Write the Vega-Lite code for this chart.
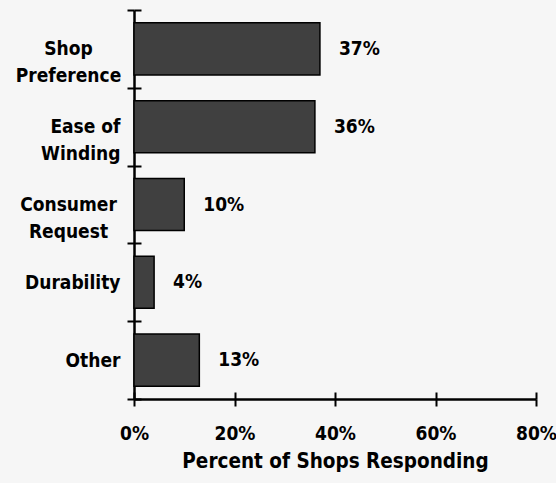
{
  "$schema": "https://vega.github.io/schema/vega-lite/v6.json",
  "width": 402,
  "height": 389,
  "autosize": {"type": "none"},
  "padding": {"left": 134, "top": 10, "right": 20, "bottom": 84},
  "background": "#f6f6f6",
  "data": {
    "values": [
      {"reason": "Shop Preference", "pct": 37, "label": "37%"},
      {"reason": "Ease of Winding", "pct": 36, "label": "36%"},
      {"reason": "Consumer Request", "pct": 10, "label": "10%"},
      {"reason": "Durability", "pct": 4, "label": "4%"},
      {"reason": "Other", "pct": 13, "label": "13%"}
    ]
  },
  "layer": [
    {
      "mark": {"type": "bar", "fill": "#404040", "stroke": "#000000", "strokeWidth": 1.5, "height": {"band": 0.67}},
      "encoding": {
        "x": {
          "field": "pct",
          "type": "quantitative",
          "scale": {"domain": [0, 80], "nice": false},
          "axis": {
            "orient": "bottom",
            "values": [0, 20, 40, 60, 80],
            "labelExpr": "datum.value + '%'",
            "grid": false,
            "domain": true,
            "domainColor": "#000000",
            "domainWidth": 2.5,
            "ticks": true,
            "tickSize": 7,
            "tickWidth": 2,
            "tickColor": "#000000",
            "labelFont": "DejaVu Sans Condensed",
            "labelFontWeight": "bold",
            "labelFontSize": 19,
            "labelColor": "#000000",
            "labelPadding": 18,
            "labelFlush": false,
            "labelOverlap": false,
            "title": "Percent of Shops Responding",
            "titleFont": "DejaVu Sans Condensed",
            "titleFontWeight": "bold",
            "titleFontSize": 20.5,
            "titleColor": "#000000",
            "titlePadding": 8
          }
        },
        "y": {
          "field": "reason",
          "type": "nominal",
          "sort": null,
          "scale": {"paddingInner": 0, "paddingOuter": 0},
          "axis": {
            "orient": "left",
            "title": null,
            "tickBand": "extent",
            "ticks": true,
            "tickSize": 7,
            "tickWidth": 2,
            "tickColor": "#000000",
            "domain": true,
            "domainColor": "#000000",
            "domainWidth": 2.5,
            "labelFont": "DejaVu Sans Condensed",
            "labelFontWeight": "bold",
            "labelFontSize": 19,
            "labelColor": "#000000",
            "labelLineHeight": 27,
            "labelBaseline": "middle",
            "labelExpr": "datum.value == 'Shop Preference' ? ['Shop', 'Preference'] : datum.value == 'Ease of Winding' ? ['Ease of', 'Winding'] : datum.value == 'Consumer Request' ? ['Consumer', 'Request'] : datum.label",
            "labelAlign": {"condition": {"test": "datum.value == 'Shop Preference' || datum.value == 'Consumer Request'", "value": "center"}, "value": "right"},
            "labelPadding": {"condition": {"test": "datum.value == 'Shop Preference' || datum.value == 'Consumer Request'", "value": 59}, "value": 7}
          }
        }
      }
    },
    {
      "mark": {"type": "text", "align": "left", "baseline": "middle", "dx": 19, "font": "DejaVu Sans Condensed", "fontWeight": "bold", "fontSize": 19, "color": "#000000"},
      "encoding": {
        "x": {
          "field": "pct",
          "type": "quantitative",
          "axis": {
            "orient": "bottom",
            "offset": -7,
            "values": [0, 20, 40, 60, 80],
            "domain": false,
            "labels": false,
            "grid": false,
            "title": null,
            "tickSize": 7,
            "tickWidth": 2,
            "tickColor": "#000000",
            "zindex": 1
          }
        },
        "y": {
          "field": "reason",
          "type": "nominal",
          "sort": null,
          "axis": {
            "orient": "left",
            "offset": -7,
            "title": null,
            "tickBand": "extent",
            "tickSize": 7,
            "tickWidth": 2,
            "tickColor": "#000000",
            "domain": false,
            "labels": false,
            "grid": false,
            "zindex": 1
          }
        },
        "text": {"field": "label"}
      }
    }
  ],
  "resolve": {"axis": {"x": "independent", "y": "independent"}},
  "config": {"view": {"stroke": null}}
}
